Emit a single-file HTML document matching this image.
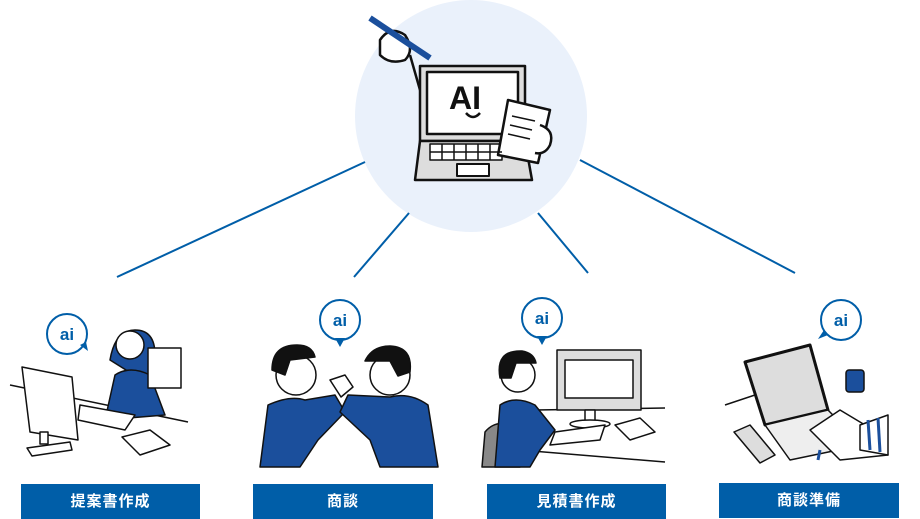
<!DOCTYPE html>
<html><head><meta charset="utf-8"><style>
html,body{margin:0;padding:0;background:#fff;}
body{width:920px;height:519px;overflow:hidden;position:relative;font-family:"Liberation Sans","Noto Sans CJK JP",sans-serif;}
.lbl{position:absolute;height:35px;background:#005ea8;color:#fff;font-weight:bold;font-size:15px;line-height:35px;text-align:center;letter-spacing:1px;}
svg{position:absolute;left:0;top:0;}
</style></head><body>
<svg width="920" height="519" viewBox="0 0 920 519" font-family="Liberation Sans, sans-serif">
<circle cx="471" cy="116" r="116" fill="#eaf1fb"/>
<g stroke="#005ea8" stroke-width="2">
<line x1="365" y1="162" x2="117" y2="277"/>
<line x1="409" y1="213" x2="354" y2="277"/>
<line x1="538" y1="213" x2="588" y2="273"/>
<line x1="580" y1="160" x2="795" y2="273"/>
</g>
<!-- central laptop -->
<g stroke="#111" stroke-width="2.5" stroke-linejoin="round">
<line x1="410" y1="55" x2="420" y2="90"/>
<path d="M380 40 q10 -15 25 -5 q10 15 0 25 q-15 5 -25 -5 z" fill="#fff"/>
<line x1="370" y1="18" x2="430" y2="58" stroke="#1b4f9c" stroke-width="6"/>
<rect x="420" y="66" width="105" height="75" fill="#ddd"/>
<rect x="427" y="72" width="91" height="62" fill="#fff"/>
<path d="M420 141 L415 180 L532 180 L525 141 z" fill="#ddd"/>
<rect x="457" y="164" width="32" height="12" fill="#fff" stroke-width="2"/>
<rect x="430" y="144" width="72" height="16" fill="#fff" stroke-width="1.5"/>
<path d="M508 100 L550 110 L538 163 L498 155 z" fill="#fff"/>
<path d="M540 125 q15 5 10 20 q-5 10 -15 8" fill="#fff"/>
</g>
<g stroke="#111" stroke-width="1.5"><line x1="512" y1="116" x2="535" y2="121"/><line x1="510" y1="125" x2="532" y2="130"/><line x1="508" y1="134" x2="530" y2="139"/>
<line x1="430" y1="152" x2="502" y2="152"/><line x1="442" y1="144" x2="442" y2="160"/><line x1="454" y1="144" x2="454" y2="160"/><line x1="466" y1="144" x2="466" y2="160"/><line x1="478" y1="144" x2="478" y2="160"/><line x1="490" y1="144" x2="490" y2="160"/></g>
<text x="449" y="109" font-size="32" font-weight="bold" fill="#111">AI</text>
<path d="M466 113 q7 8 14 0" stroke="#111" stroke-width="2.5" fill="none"/>
<!-- bubbles -->
<g fill="#fff" stroke="#005ea8" stroke-width="2">
<circle cx="67" cy="334" r="20"/>
<circle cx="340" cy="320" r="20"/>
<circle cx="542" cy="318" r="20"/>
<circle cx="841" cy="320" r="20"/>
</g>
<g fill="#005ea8"><path d="M335 338 l5 9 l5 -9z"/><path d="M537 336 l5 9 l5 -9z"/><path d="M824 330 l-6 9 l10 -4z"/><path d="M80 345 l8 6 l-2 -9z"/></g>
<g fill="#005ea8" font-size="17" font-weight="bold" text-anchor="middle">
<text x="67" y="340">ai</text><text x="340" y="326">ai</text><text x="542" y="324">ai</text><text x="841" y="326">ai</text></g>
<!-- scene 1 -->
<g stroke="#111" stroke-width="1.5" stroke-linejoin="round">
<line x1="10" y1="385" x2="188" y2="422"/>
<path d="M110 360 q5 -30 25 -30 q20 0 20 25 l-5 30 z" fill="#1b4f9c"/>
<circle cx="130" cy="345" r="14" fill="#fff"/>
<path d="M105 420 L115 375 Q130 365 150 375 L165 415 z" fill="#1b4f9c"/>
<rect x="148" y="348" width="33" height="40" fill="#fff"/>
<path d="M22 367 L72 377 L78 440 L30 432 z" fill="#fff"/>
<rect x="40" y="432" width="8" height="12" fill="#fff"/>
<path d="M27 448 L70 442 L72 450 L32 456z" fill="#fff"/>
<path d="M80 405 L135 415 L125 430 L78 420z" fill="#fff"/>
<path d="M122 437 L150 430 L170 445 L140 455z" fill="#fff"/>
</g>
<!-- scene 2 -->
<g stroke="#111" stroke-width="1.5" stroke-linejoin="round">
<path d="M260 467 L268 405 Q290 395 305 400 L335 395 L345 412 L318 440 L300 467z" fill="#1b4f9c"/>
<path d="M438 467 L428 405 Q410 392 390 397 L348 395 L340 412 L370 440 L380 467z" fill="#1b4f9c"/>
<circle cx="296" cy="375" r="20" fill="#fff"/>
<path d="M272 370 q0 -25 25 -25 q15 0 18 12 l-25 3 l-5 15z" fill="#111"/>
<circle cx="390" cy="375" r="20" fill="#fff"/>
<path d="M410 372 q3 -25 -20 -26 q-18 0 -25 15 l25 0 l8 15z" fill="#111"/>
<path d="M330 380 l15 -5 l8 12 l-12 10z" fill="#fff"/>
</g>
<!-- scene 3 -->
<g stroke="#111" stroke-width="1.5" stroke-linejoin="round">
<line x1="535" y1="410" x2="665" y2="408"/>
<line x1="520" y1="450" x2="665" y2="462"/>
<rect x="557" y="350" width="84" height="60" fill="#ddd"/>
<rect x="565" y="360" width="68" height="38" fill="#fff"/>
<rect x="585" y="410" width="10" height="12" fill="#fff"/>
<ellipse cx="590" cy="424" rx="20" ry="4" fill="#fff"/>
<path d="M482 467 L485 432 Q495 420 510 425 L520 467z" fill="#888"/>
<path d="M495 467 L500 405 Q515 395 535 405 L555 430 L540 450 L530 467z" fill="#1b4f9c"/>
<circle cx="518" cy="375" r="17" fill="#fff"/>
<path d="M500 378 q-5 -28 22 -27 q12 2 14 12 l-20 0 l-5 15z" fill="#111"/>
<path d="M555 432 L605 425 L600 440 L550 445z" fill="#fff"/>
<path d="M615 425 L640 418 L655 432 L630 440z" fill="#fff"/>
</g>
<!-- scene 4 -->
<g stroke="#111" stroke-width="1.5" stroke-linejoin="round">
<polyline points="725,405 770,390 M825,365 880,360 888,385" fill="none"/>
<path d="M745 362 L810 345 L828 410 L765 425z" fill="#ddd" stroke-width="3"/>
<path d="M765 425 L828 410 L862 445 L790 460z" fill="#eee"/>
<path d="M734 432 L750 425 L775 455 L760 463z" fill="#ddd"/>
<rect x="846" y="370" width="18" height="22" rx="3" fill="#1b4f9c"/>
<path d="M810 430 L840 410 L865 425 L880 440 L888 455 L840 460z" fill="#fff"/>
<path d="M860 425 L888 415 L888 455 L860 450z" fill="#fff"/>
</g>
<g stroke="#1b4f9c" stroke-width="3"><line x1="868" y1="420" x2="870" y2="450"/><line x1="878" y1="418" x2="880" y2="452"/><line x1="820" y1="450" x2="818" y2="460"/></g>
</svg>
<div class="lbl" style="left:21px;top:484px;width:179px;">提案書作成</div>
<div class="lbl" style="left:253px;top:484px;width:180px;">商談</div>
<div class="lbl" style="left:487px;top:484px;width:179px;">見積書作成</div>
<div class="lbl" style="left:719px;top:483px;width:180px;">商談準備</div>
</body></html>
